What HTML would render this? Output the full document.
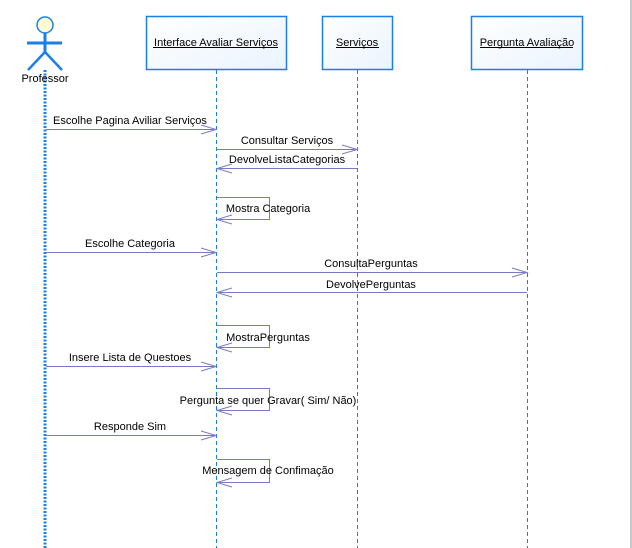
<!DOCTYPE html>
<html><head><meta charset="utf-8"><style>
html,body{margin:0;padding:0;background:#fff;}
svg{display:block;}
text{font-family:"Liberation Sans",Arial,sans-serif;font-size:11px;fill:#000;}
</style></head><body>
<svg width="632" height="548" viewBox="0 0 632 548" xmlns="http://www.w3.org/2000/svg">
<defs>
<linearGradient id="g" x1="0" y1="0" x2="1" y2="1"><stop offset="0" stop-color="#ffffff"/><stop offset="1" stop-color="#eaf4fd"/></linearGradient>
</defs>
<line x1="631" y1="0" x2="631" y2="548" stroke="#c8c8d0" stroke-width="2"/>
<!-- actor -->
<circle cx="45" cy="25" r="8" fill="#fefbd0" stroke="#1a7fe8" stroke-width="1.5"/>
<line x1="27" y1="43" x2="62" y2="43" stroke="#1a7fe8" stroke-width="3"/>
<line x1="45" y1="33" x2="45" y2="52" stroke="#1a7fe8" stroke-width="3"/>
<polyline points="28,70 45,52 62,70" fill="none" stroke="#1a7fe8" stroke-width="2.5"/>
<line x1="45" y1="70" x2="45" y2="548" stroke="#1a7fe8" stroke-width="3" stroke-dasharray="2,1.5"/>
<text x="45" y="82" text-anchor="middle">Professor</text>
<!-- boxes -->
<g stroke="#1a7fe8" stroke-width="1.5" fill="url(#g)">
<rect x="146.5" y="16.5" width="140" height="53"/>
<rect x="322.5" y="16.5" width="70" height="53"/>
<rect x="471.5" y="16.5" width="111" height="53"/>
</g>
<g text-anchor="middle">
<text x="216" y="46">Interface Avaliar Serviços</text>
<text x="357" y="46">Serviços</text>
<text x="527" y="46">Pergunta Avaliação</text>
</g>
<g fill="#000">
<rect x="153" y="47" width="125" height="1"/>
<rect x="336" y="47" width="43" height="1"/>
<rect x="480" y="47" width="93" height="1"/>
</g>
<!-- lifelines -->
<g stroke="#1a7fe8" stroke-width="1" stroke-dasharray="4,3">
<line x1="216.5" y1="70" x2="216.5" y2="548"/>
<line x1="357.5" y1="70" x2="357.5" y2="548"/>
<line x1="527.5" y1="70" x2="527.5" y2="548"/>
</g>
<!-- messages -->
<g stroke="#7a7ac4" stroke-width="1" fill="none">
<line x1="46" y1="129.5" x2="216" y2="129.5"/><polyline points="201,125 216,129.5 201,134"/>
<line x1="217" y1="149.5" x2="357" y2="149.5"/><polyline points="342,145 357,149.5 342,154"/>
<line x1="357" y1="168.5" x2="217" y2="168.5"/><polyline points="232,164 217,168.5 232,173"/>
<polyline points="217,197.5 269.5,197.5 269.5,219.5 217,219.5"/><polyline points="232,215 217,219.5 232,224"/>
<line x1="46" y1="252.5" x2="216" y2="252.5"/><polyline points="201,248 216,252.5 201,257"/>
<line x1="217" y1="272.5" x2="527" y2="272.5"/><polyline points="512,268 527,272.5 512,277"/>
<line x1="527" y1="292.5" x2="217" y2="292.5"/><polyline points="232,288 217,292.5 232,297"/>
<polyline points="217,325.5 269.5,325.5 269.5,347.5 217,347.5"/><polyline points="232,343 217,347.5 232,352"/>
<line x1="46" y1="366.5" x2="216" y2="366.5"/><polyline points="201,362 216,366.5 201,371"/>
<polyline points="217,388.5 269.5,388.5 269.5,410.5 217,410.5"/><polyline points="232,406 217,410.5 232,415"/>
<line x1="46" y1="435.5" x2="216" y2="435.5"/><polyline points="201,431 216,435.5 201,440"/>
<polyline points="217,459.5 269.5,459.5 269.5,482.5 217,482.5"/><polyline points="232,478 217,482.5 232,487"/>
</g>
<g text-anchor="middle">
<text x="130" y="124">Escolhe Pagina Aviliar Serviços</text>
<text x="287" y="144">Consultar Serviços</text>
<text x="287" y="163">DevolveListaCategorias</text>
<text x="268" y="212">Mostra Categoria</text>
<text x="130" y="247">Escolhe Categoria</text>
<text x="371" y="267">ConsultaPerguntas</text>
<text x="371" y="288">DevolvePerguntas</text>
<text x="268" y="341">MostraPerguntas</text>
<text x="130" y="361">Insere Lista de Questoes</text>
<text x="268" y="404">Pergunta se quer Gravar( Sim/ Não)</text>
<text x="130" y="430">Responde Sim</text>
<text x="268" y="474">Mensagem de Confimação</text>
</g>
</svg>
</body></html>
